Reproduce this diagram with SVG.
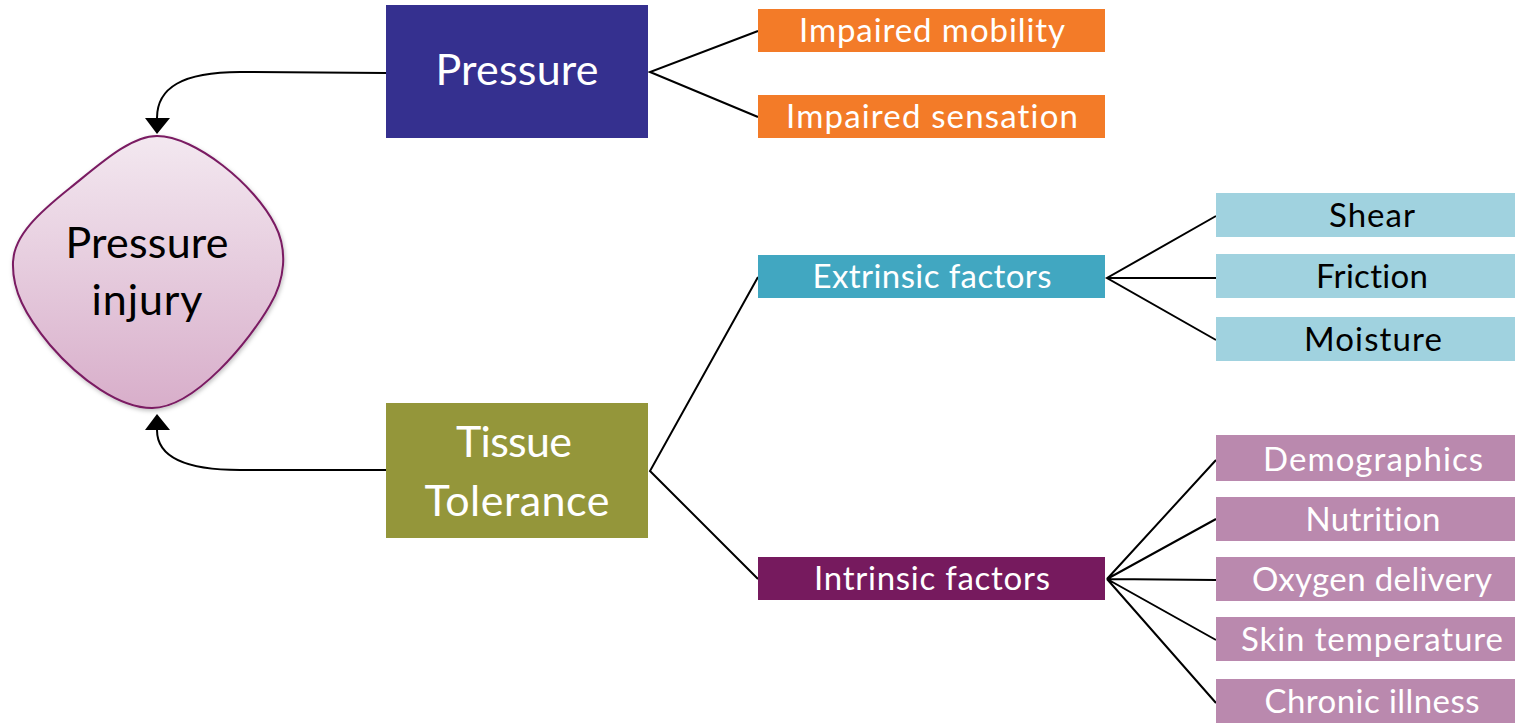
<svg xmlns="http://www.w3.org/2000/svg" width="1515" height="723" viewBox="0 0 1515 723">
<defs>
<linearGradient id="blobGrad" x1="0" y1="0" x2="0" y2="1">
<stop offset="0" stop-color="#F3E8F0"/>
<stop offset="1" stop-color="#D8AECA"/>
</linearGradient>
<filter id="shadow" x="-10%" y="-10%" width="120%" height="120%">
<feDropShadow dx="1" dy="2" stdDeviation="2" flood-color="#000" flood-opacity="0.25"/>
</filter>
</defs>
<style>
text { font-family: Lato, "Open Sans", sans-serif; text-anchor: middle; font-variant-ligatures: none; font-feature-settings: "liga" 0; }
.big { font-size: 43px; }
.small { font-size: 33px; }
.w { fill: #FFFFFF; }
.k { fill: #000000; }
.link { stroke: #000; stroke-width: 2; fill: none; }
</style>
<rect width="1515" height="723" fill="#FFFFFF"/>
<g id="connectors">
<path class="link" d="M386,73 L240,72 C182,72 157,88 157,118" />
<path d="M157,134 L145,118 L170,118 Z" fill="#000"/>
<path class="link" d="M386,470 L240,470 C182,470 157,455 157,430" />
<path d="M157,414 L145,430 L170,430 Z" fill="#000"/>
<path class="link" d="M758,31 L650,72 L758,117" />
<path class="link" d="M758,277 L650,471 L758,579" />
<path class="link" d="M1216,216 L1107,278 L1216,340 M1107,278 L1216,278" />
<path class="link" d="M1216,460 L1107,579 L1216,519 M1107,579 L1216,580 M1216,640 L1107,579 L1216,703" />
</g>
<g id="pressure-injury">
<path d="M157,136 C195,136 255,185 275,225 C288,250 285,280 270,305 C250,340 195,408 152,408 C120,408 80,380 50,345 C25,315 12,290 13,262 C14,235 40,212 70,188 C100,164 130,136 157,136 Z" fill="url(#blobGrad)" stroke="#7A1A62" stroke-width="2" filter="url(#shadow)"/>
<text class="big k" x="147" y="258" textLength="163">Pressure</text>
<text class="big k" x="147" y="315" textLength="111">injury</text>
</g>
<g id="pressure">
<rect x="386" y="5" width="262" height="133" fill="#35308F"/>
<text class="big w" x="517" y="85" textLength="163">Pressure</text>
</g>
<g id="impaired-mobility">
<rect x="758" y="9" width="347" height="43" fill="#F37B28"/>
<text class="small w" x="932" y="42" textLength="266">Impaired mobility</text>
</g>
<g id="impaired-sensation">
<rect x="758" y="95" width="347" height="43" fill="#F37B28"/>
<text class="small w" x="932" y="128" textLength="292">Impaired sensation</text>
</g>
<g id="tissue-tolerance">
<rect x="386" y="403" width="262" height="135" fill="#94963A"/>
<text class="big w" x="514" y="457" textLength="116">Tissue</text>
<text class="big w" x="517" y="516" textLength="185">Tolerance</text>
</g>
<g id="extrinsic">
<rect x="758" y="255" width="347" height="43" fill="#41A7C1"/>
<text class="small w" x="932" y="288" textLength="239">Extrinsic factors</text>
</g>
<g id="intrinsic">
<rect x="758" y="557" width="347" height="43" fill="#761A5E"/>
<text class="small w" x="932" y="590" textLength="236">Intrinsic factors</text>
</g>
<g id="shear">
<rect x="1216" y="193" width="299" height="44" fill="#A0D2DF"/>
<text class="small k" x="1372" y="227" textLength="86">Shear</text>
</g>
<g id="friction">
<rect x="1216" y="254" width="299" height="44" fill="#A0D2DF"/>
<text class="small k" x="1372" y="288" textLength="112">Friction</text>
</g>
<g id="moisture">
<rect x="1216" y="317" width="299" height="44" fill="#A0D2DF"/>
<text class="small k" x="1373" y="351" textLength="138">Moisture</text>
</g>
<g id="demographics">
<rect x="1216" y="435" width="299" height="46" fill="#BA89AE"/>
<text class="small w" x="1373" y="471" textLength="220">Demographics</text>
</g>
<g id="nutrition">
<rect x="1216" y="497" width="299" height="44" fill="#BA89AE"/>
<text class="small w" x="1373" y="531" textLength="135">Nutrition</text>
</g>
<g id="oxygen">
<rect x="1216" y="557" width="299" height="44" fill="#BA89AE"/>
<text class="small w" x="1372" y="591" textLength="240">Oxygen delivery</text>
</g>
<g id="skin-temp">
<rect x="1216" y="617" width="299" height="44" fill="#BA89AE"/>
<text class="small w" x="1372" y="651" textLength="262">Skin temperature</text>
</g>
<g id="chronic">
<rect x="1216" y="679" width="299" height="44" fill="#BA89AE"/>
<text class="small w" x="1372" y="713" textLength="215">Chronic illness</text>
</g>
</svg>
